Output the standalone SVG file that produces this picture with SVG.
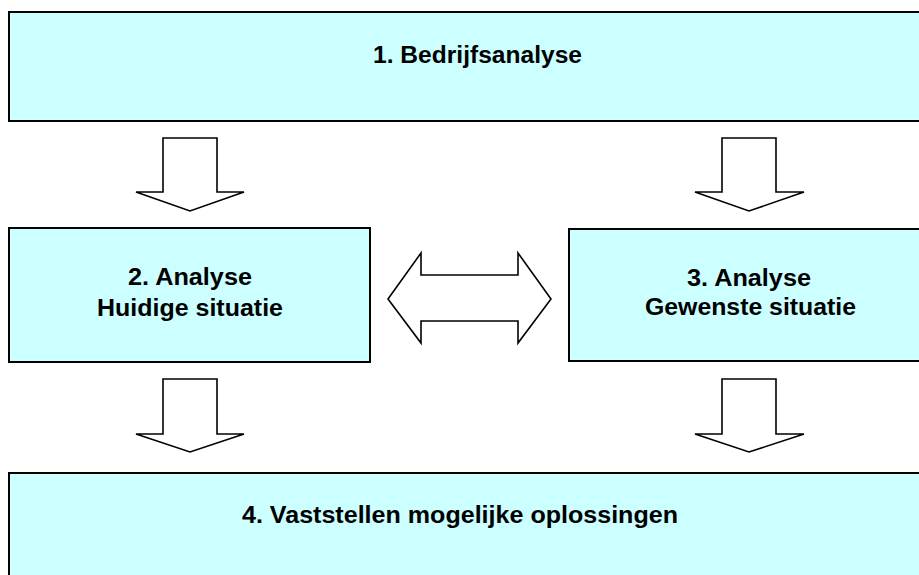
<svg xmlns="http://www.w3.org/2000/svg" width="919" height="575" viewBox="0 0 919 575">
<style>
.box{fill:#CCFFFF;stroke:#000;stroke-width:2}
.arr{fill:#fff;stroke:#000;stroke-width:1.6;stroke-linejoin:miter}
.t{font-family:"Liberation Sans",Arial,sans-serif;font-weight:bold;font-size:23px;fill:#000}
</style>
<rect width="919" height="575" fill="#fff"/>
<g id="node1">
<rect class="box" x="9" y="12" width="930" height="109"/>
<text class="t" x="477.5" y="63" text-anchor="middle" textLength="209" lengthAdjust="spacingAndGlyphs">1. Bedrijfsanalyse</text>
</g>
<g id="node2">
<rect class="box" x="9" y="228" width="361" height="134"/>
<text class="t" x="190" y="285" text-anchor="middle" textLength="124" lengthAdjust="spacingAndGlyphs">2. Analyse</text>
<text class="t" x="190" y="316" text-anchor="middle" textLength="186" lengthAdjust="spacingAndGlyphs">Huidige situatie</text>
</g>
<g id="node3">
<rect class="box" x="569" y="229" width="370" height="132"/>
<text class="t" x="749" y="286" text-anchor="middle" textLength="124" lengthAdjust="spacingAndGlyphs">3. Analyse</text>
<text class="t" x="750.5" y="315" text-anchor="middle" textLength="211" lengthAdjust="spacingAndGlyphs">Gewenste situatie</text>
</g>
<g id="node4">
<rect class="box" x="9" y="473" width="930" height="120"/>
<text class="t" x="460" y="523" text-anchor="middle" textLength="436" lengthAdjust="spacingAndGlyphs">4. Vaststellen mogelijke oplossingen</text>
</g>
<g id="connectors">
<polygon class="arr" points="163,138 217,138 217,192 244,192 190,211 136,192 163,192"/>
<polygon class="arr" points="722,138 776,138 776,192 804,192 749,211 695,192 722,192"/>
<polygon class="arr" points="163,379 217,379 217,434 244,434 190,452 136,434 163,434"/>
<polygon class="arr" points="722,379 776,379 776,434 804,434 749,452 695,434 722,434"/>
<polygon class="arr" points="388,299 421,253 421,275 518,275 518,253 551,299 518,343 518,321 421,321 421,343"/>
</g>
</svg>
